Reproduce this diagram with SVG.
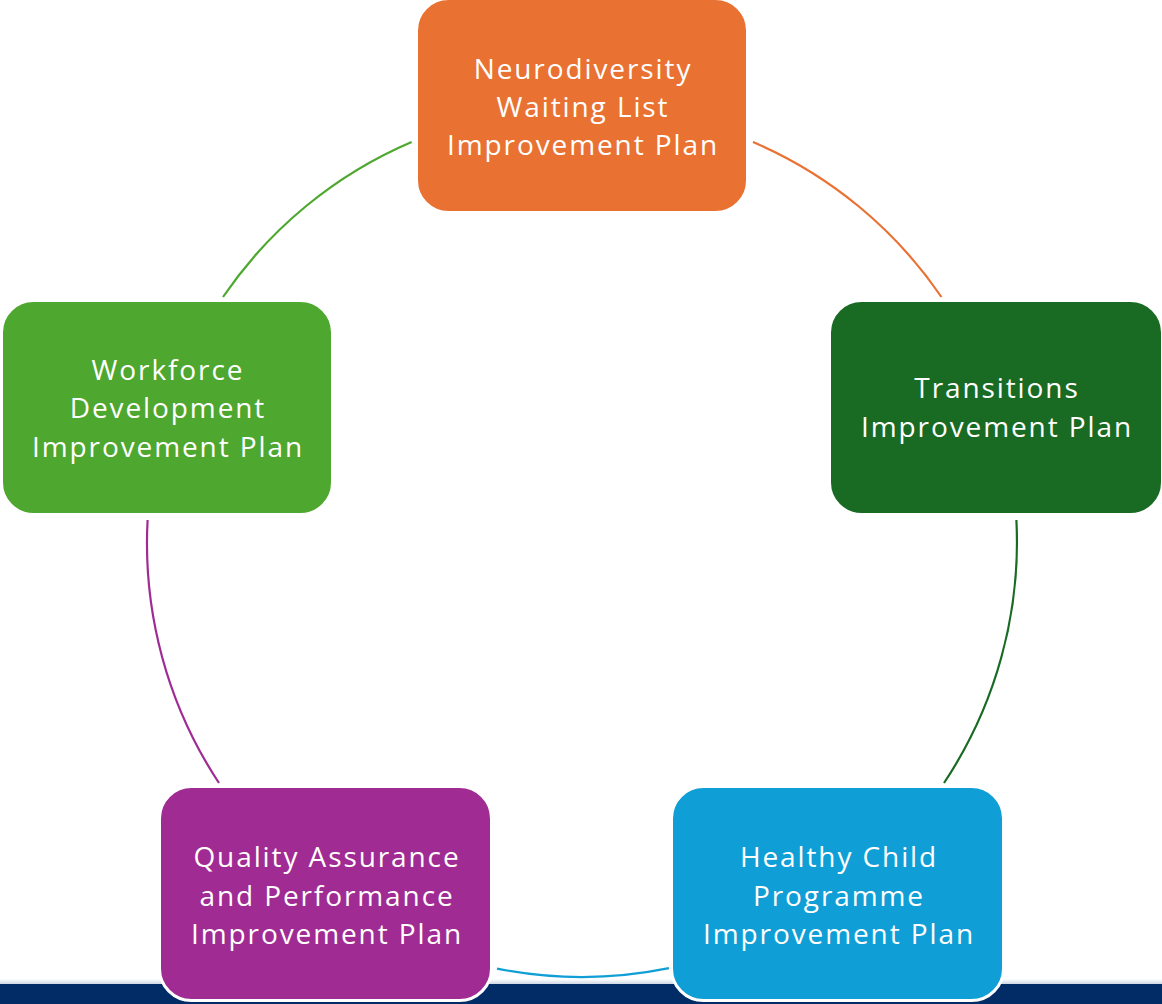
<svg xmlns="http://www.w3.org/2000/svg" width="1162" height="1004" viewBox="0 0 1162 1004">
<defs>
<linearGradient id="fade" x1="0" y1="0" x2="0" y2="1">
<stop offset="0" stop-color="#ffffff"/>
<stop offset="1" stop-color="#cfd8e5"/>
</linearGradient>
<style>
.box{stroke:#ffffff;stroke-width:3}
.lbl{font-family:"Open Sans","Liberation Sans",sans-serif;font-size:28px;letter-spacing:1.9px;fill:#ffffff;text-anchor:middle}
.arc{fill:none;stroke-width:2.2}
</style>
</defs>
<rect x="0" y="0" width="1162" height="1004" fill="#ffffff"/>
<rect x="0" y="979" width="1162" height="5" fill="url(#fade)"/>
<rect x="0" y="984" width="1162" height="20" fill="#022C66"/>
<g id="connectors">
<path class="arc" stroke="#E97132" d="M753,142 A435,435 0 0 1 941.4,297"/>
<path class="arc" stroke="#196B24" d="M1016.4,520 A435,435 0 0 1 944,783"/>
<path class="arc" stroke="#0F9ED5" d="M669,968.2 A435,435 0 0 1 497,968.6"/>
<path class="arc" stroke="#A02B93" d="M219,783 A435,435 0 0 1 147.6,520"/>
<path class="arc" stroke="#4EA72E" d="M223,297 A435,435 0 0 1 411.6,142"/>
</g>
<g id="node-neurodiversity">
<rect class="box" x="416.5" y="-1.5" width="331" height="214" rx="32" fill="#E97132"/>
<text class="lbl" x="583" y="79">Neurodiversity</text>
<text class="lbl" x="583" y="117">Waiting List</text>
<text class="lbl" x="583" y="155">Improvement Plan</text>
</g>
<g id="node-transitions">
<rect class="box" x="829.5" y="300.5" width="333" height="214" rx="32" fill="#196B24"/>
<text class="lbl" x="997" y="398">Transitions</text>
<text class="lbl" x="997" y="437">Improvement Plan</text>
</g>
<g id="node-healthy-child">
<rect class="box" x="671.5" y="786.5" width="332" height="214" rx="32" fill="#0F9ED5"/>
<text class="lbl" x="839" y="867">Healthy Child</text>
<text class="lbl" x="839" y="906">Programme</text>
<text class="lbl" x="839" y="944">Improvement Plan</text>
</g>
<g id="node-quality">
<rect class="box" x="159.5" y="786.5" width="332" height="214" rx="32" fill="#A02B93"/>
<text class="lbl" x="327" y="867">Quality Assurance</text>
<text class="lbl" x="327" y="906">and Performance</text>
<text class="lbl" x="327" y="944">Improvement Plan</text>
</g>
<g id="node-workforce">
<rect class="box" x="1.5" y="300.5" width="331" height="214" rx="32" fill="#4EA72E"/>
<text class="lbl" x="168" y="380">Workforce</text>
<text class="lbl" x="168" y="418">Development</text>
<text class="lbl" x="168" y="457">Improvement Plan</text>
</g>
</svg>
